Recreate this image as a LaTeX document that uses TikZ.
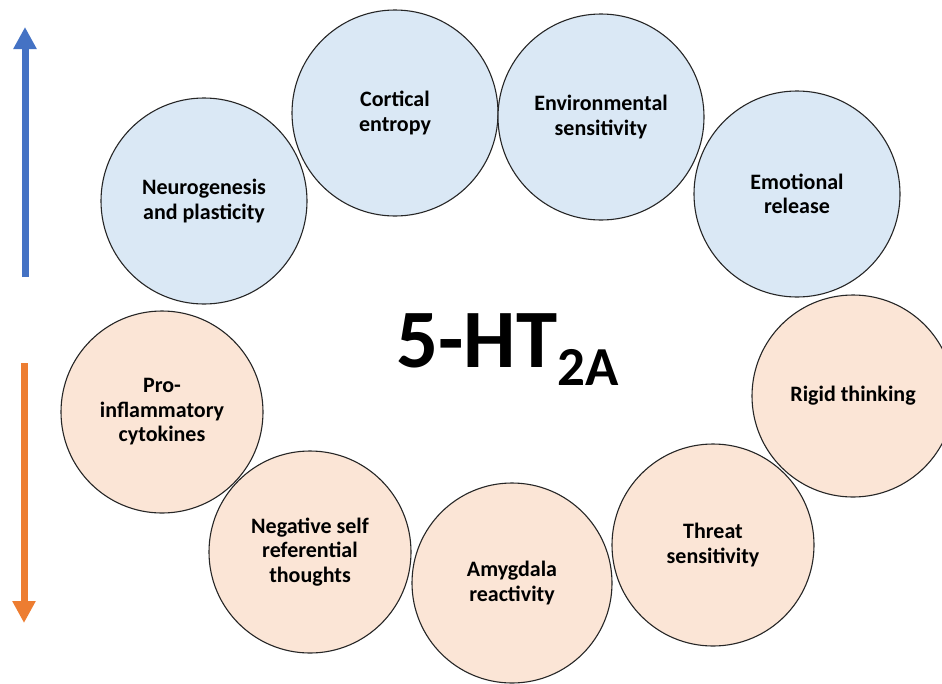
\documentclass[tikz,border=0pt]{standalone}
\usepackage{fontspec}
\setmainfont{Carlito}
\usetikzlibrary{arrows.meta}
\definecolor{bluefill}{HTML}{DAE8F5}
\definecolor{orangefill}{HTML}{FBE5D6}
\definecolor{arrowblue}{HTML}{4472C4}
\definecolor{arroworange}{HTML}{ED7D31}
\begin{document}
\begin{tikzpicture}[x=1pt,y=-1pt,
  bubble/.style={circle, draw=black!85, line width=1.1pt, inner sep=0pt, align=center,
    font=\fontsize{22}{24.5}\selectfont\bfseries, text=black},
  upbubble/.style={bubble, fill=bluefill, minimum size=206pt},
  downbubble/.style={bubble, fill=orangefill, minimum size=202pt},
  bigarrow/.style={line width=7pt, -{Triangle[width=22pt,length=22pt]}}]
\useasboundingbox (0,0) rectangle (942,683);
\clip (0,0) rectangle (942,683);
\fill[white] (0,0) rectangle (942,683);

\node[upbubble] (neuro) at (204,201) {Neurogenesis\\and plasticity};
\node[upbubble] (cortical) at (395,113) {Cortical\\entropy};
\node[upbubble] (env) at (601,117) {Environmental\\sensitivity};
\node[upbubble] (emo) at (797,194) {Emotional\\release};

\node[downbubble] (pro) at (162,412) {Pro-\\inflammatory\\cytokines};
\node[downbubble] (neg) at (310,552) {Negative self\\referential\\thoughts};
\node[downbubble, minimum size=200pt] (amy) at (512,583) {Amygdala\\reactivity};
\node[downbubble] (threat) at (713,545) {Threat\\sensitivity};
\node[downbubble] (rigid) at (853,396) {Rigid thinking};

\node[anchor=base west, inner sep=0pt, font=\fontsize{83}{83}\selectfont\bfseries] (title) at (396,367)
  {5-HT\raisebox{-18pt}{\fontsize{55}{55}\selectfont 2A}};

\coordinate (bluetail) at (25,277);
\coordinate (bluehead) at (25,27);
\draw[bigarrow, arrowblue] (bluetail) -- (bluehead);
\coordinate (orangetail) at (24,363);
\coordinate (orangehead) at (24,623);
\draw[bigarrow, arroworange] (orangetail) -- (orangehead);
\end{tikzpicture}
\end{document}
